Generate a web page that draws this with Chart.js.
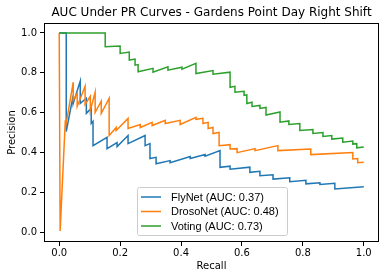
<!DOCTYPE html>
<html>
<head>
<meta charset="utf-8">
<script src="https://cdn.jsdelivr.net/npm/chart.js@4"></script>
<style>
  html, body { margin: 0; padding: 0; background: #fff; }
  #wrap { width: 386px; height: 278px; }
</style>
</head>
<body>
<div id="wrap"><canvas id="pr-chart" width="386" height="278"></canvas></div>
<script>
const chartTitle = "AUC Under PR Curves - Gardens Point Day Right Shift";
const seriesNames = ["FlyNet (AUC: 0.37)", "DrosoNet (AUC: 0.48)", "Voting (AUC: 0.73)"];
const seriesColors = ["#1f77b4", "#ff7f0e", "#2ca02c"];
const xTicks = [0.0, 0.2, 0.4, 0.6, 0.8, 1.0];
const yTicks = [0.0, 0.2, 0.4, 0.6, 0.8, 1.0];

const flyRecall = [0, 0.023, 0.023, 0.046, 0.046, 0.069, 0.069, 0.089, 0.089, 0.105, 0.105, 0.111, 0.111,
  0.157, 0.157, 0.190, 0.190, 0.226, 0.226, 0.282, 0.282, 0.298, 0.298, 0.318, 0.318, 0.364, 0.364,
  0.430, 0.430, 0.479, 0.479, 0.528, 0.528, 0.561, 0.561, 0.626, 0.626, 0.659, 0.659, 0.702, 0.702,
  0.757, 0.757, 0.810, 0.810, 0.856, 0.856, 0.905, 0.905, 1.0];
const flyPrecision = [1.0, 1.0, 0.505, 0.687, 0.646, 0.758, 0.646, 0.672, 0.596, 0.621, 0.545, 0.556, 0.434,
  0.476, 0.419, 0.449, 0.429, 0.485, 0.444, 0.485, 0.434, 0.444, 0.369, 0.375, 0.343, 0.359, 0.348,
  0.379, 0.369, 0.389, 0.381, 0.409, 0.325, 0.331, 0.316, 0.326, 0.300, 0.305, 0.283, 0.288, 0.266,
  0.273, 0.253, 0.260, 0.242, 0.247, 0.239, 0.245, 0.216, 0.227];

const drosoRecall = [0, 0.003, 0.020, 0.020, 0.046, 0.046, 0.059, 0.059, 0.085, 0.085, 0.102, 0.102,
  0.118, 0.118, 0.138, 0.138, 0.164, 0.164, 0.187, 0.187, 0.226, 0.226, 0.266, 0.266, 0.305, 0.305,
  0.348, 0.348, 0.397, 0.397, 0.449, 0.449, 0.472, 0.472, 0.489, 0.489, 0.505, 0.505, 0.525, 0.525,
  0.561, 0.561, 0.584, 0.584, 0.643, 0.643, 0.718, 0.718, 0.826, 0.826, 0.964, 0.964, 0.980, 0.980, 1.0];
const drosoPrecision = [1.0, 0.005, 0.561, 0.520, 0.753, 0.662, 0.697, 0.631, 0.732, 0.641, 0.682, 0.611,
  0.702, 0.601, 0.657, 0.596, 0.672, 0.485, 0.525, 0.510, 0.571, 0.520, 0.540, 0.525, 0.551, 0.535,
  0.561, 0.545, 0.561, 0.540, 0.576, 0.566, 0.571, 0.545, 0.551, 0.520, 0.525, 0.495, 0.500, 0.434,
  0.439, 0.417, 0.419, 0.399, 0.419, 0.409, 0.434, 0.409, 0.417, 0.389, 0.399, 0.367, 0.369, 0.348, 0.351];

const voteRecall = [0, 0.151, 0.151, 0.200, 0.200, 0.230, 0.230, 0.249, 0.249, 0.259, 0.259, 0.308, 0.308,
  0.357, 0.357, 0.403, 0.403, 0.449, 0.449, 0.505, 0.505, 0.561, 0.561, 0.577, 0.577, 0.607, 0.607,
  0.616, 0.616, 0.633, 0.633, 0.659, 0.659, 0.679, 0.679, 0.725, 0.725, 0.754, 0.754, 0.790, 0.790,
  0.833, 0.833, 0.866, 0.866, 0.895, 0.895, 0.931, 0.931, 0.964, 0.964, 0.977, 0.977, 1.0];
const votePrecision = [1.0, 1.0, 0.931, 0.934, 0.897, 0.904, 0.864, 0.869, 0.838, 0.841, 0.805, 0.822, 0.803,
  0.830, 0.813, 0.828, 0.818, 0.847, 0.796, 0.811, 0.793, 0.803, 0.727, 0.732, 0.702, 0.707, 0.687,
  0.689, 0.646, 0.652, 0.631, 0.636, 0.621, 0.626, 0.588, 0.603, 0.552, 0.558, 0.540, 0.545, 0.510,
  0.515, 0.495, 0.500, 0.480, 0.485, 0.467, 0.472, 0.451, 0.457, 0.442, 0.444, 0.423, 0.427];

function toPoints(xs, ys) {
  return xs.map((x, i) => ({ x: x, y: ys[i] }));
}

const allRecall = [flyRecall, drosoRecall, voteRecall];
const allPrecision = [flyPrecision, drosoPrecision, votePrecision];

// title + full frame + boxed legend, matplotlib style
const mplDecor = {
  id: "mplDecor",
  afterDraw(chart) {
    const ctx = chart.ctx;
    const a = chart.chartArea;
    ctx.save();
    ctx.strokeStyle = "#000";
    ctx.lineWidth = 1;
    ctx.strokeRect(a.left + 0.5, a.top + 0.5, a.right - a.left - 1, a.bottom - a.top - 1);

    ctx.fillStyle = "#000";
    ctx.font = "12px 'DejaVu Sans'";
    ctx.textAlign = "center";
    ctx.textBaseline = "middle";
    ctx.fillText(chartTitle, (a.left + a.right) / 2, 13);

    const lx = 137, ly = 187, lw = 150, lh = 48;
    ctx.fillStyle = "rgba(255,255,255,0.8)";
    ctx.strokeStyle = "#cccccc";
    ctx.beginPath();
    ctx.roundRect(lx + 0.5, ly + 0.5, lw, lh, 2);
    ctx.fill();
    ctx.stroke();

    ctx.font = "11px 'Liberation Sans'";
    ctx.textAlign = "left";
    chart.data.datasets.forEach((ds, i) => {
      const y = ly + 10 + i * 14.5;
      ctx.strokeStyle = ds.borderColor;
      ctx.lineWidth = 1.5;
      ctx.beginPath();
      ctx.moveTo(lx + 4, y);
      ctx.lineTo(lx + 24, y);
      ctx.stroke();
      ctx.fillStyle = "#000";
      ctx.fillText(ds.label, lx + 34, y + 0.5);
    });
    ctx.restore();
  },
};

const tickFont = { family: "'DejaVu Sans'", size: 10 };

new Chart(document.getElementById("pr-chart").getContext("2d"), {
  type: "line",
  data: {
    datasets: seriesNames.map((name, i) => ({
      label: name,
      data: toPoints(allRecall[i], allPrecision[i]),
      borderColor: seriesColors[i],
      borderWidth: 1.5,
      pointRadius: 0,
      tension: 0,
      fill: false,
      order: 3 - i,
    })),
  },
  options: {
    animation: false,
    responsive: false,
    layout: { padding: { top: 23, right: 7, left: 0, bottom: 0 } },
    plugins: { legend: { display: false }, tooltip: { enabled: false } },
    scales: {
      x: {
        type: "linear",
        min: -0.05,
        max: 1.05,
        afterBuildTicks: (s) => { s.ticks = xTicks.map((v) => ({ value: v })); },
        afterFit: (s) => { s.height = 36; },
        ticks: { font: tickFont, color: "#000", padding: 1, maxRotation: 0,
          callback: (v) => Number(v).toFixed(1) },
        grid: { drawOnChartArea: false, tickLength: 4, color: "#000" },
        border: { display: false },
        title: { display: true, text: "Recall", font: tickFont, color: "#000", padding: { top: 0, bottom: 6 } },
      },
      y: {
        type: "linear",
        min: -0.05,
        max: 1.05,
        afterBuildTicks: (s) => { s.ticks = yTicks.map((v) => ({ value: v })); },
        afterFit: (s) => { s.width = 44; },
        ticks: { font: tickFont, color: "#000", padding: 3,
          callback: (v) => Number(v).toFixed(1) },
        grid: { drawOnChartArea: false, tickLength: 4, color: "#000" },
        border: { display: false },
        title: { display: true, text: "Precision", font: tickFont, color: "#000", padding: { top: 6, bottom: 0 } },
      },
    },
  },
  plugins: [mplDecor],
});
</script>
</body>
</html>
